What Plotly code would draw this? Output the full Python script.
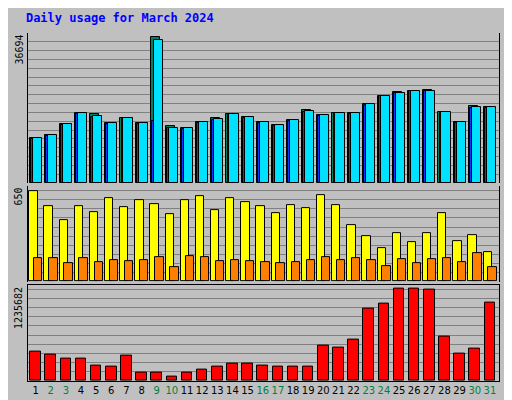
import plotly.graph_objects as go

days = list(range(1, 32))
weekend_days = [2, 3, 9, 10, 16, 17, 23, 24, 30, 31]

hits = [11250, 12000, 14750, 17500, 17250, 15000, 16250, 15000, 36694, 14250, 13750, 15250, 16250, 17250, 16500, 15250,
        14500, 15750, 18250, 17000, 17500, 17500, 19750, 22000, 23000, 23250, 23500, 17750, 15250, 19250, 19000]
files = [11250, 12000, 14750, 17500, 16800, 15000, 16250, 15000, 35900, 13900, 13750, 15250, 16000, 17250, 16500, 15250,
         14500, 15750, 18000, 17000, 17500, 17500, 19750, 22000, 22750, 23250, 23250, 17750, 15250, 19000, 19000]
pages = [11200, 11900, 14700, 17400, 16700, 14900, 16200, 14900, 15500, 13800, 13700, 15200, 15900, 17200, 16400, 15200,
         14400, 15700, 17900, 16900, 17400, 17400, 19700, 21900, 22700, 23200, 23200, 17700, 15200, 18900, 18900]
visits = [650, 543, 443, 543, 500, 600, 536, 586, 557, 486, 586, 614, 514, 600, 571, 543,
          493, 550, 529, 621, 550, 407, 329, 243, 350, 286, 350, 493, 293, 336, 214]
sites = [171, 171, 136, 171, 143, 157, 150, 157, 179, 107, 186, 179, 150, 157, 150, 143,
         136, 143, 157, 179, 157, 171, 157, 114, 164, 136, 164, 171, 143, 207, 107]
kbytes = [393800, 353000, 298700, 298700, 203700, 190100, 339500, 108600, 108600, 54300, 108600, 149400, 190100,
          230800, 230800, 203700, 190100, 190100, 190100, 475300, 448100, 556700, 964100, 1032000, 1235682, 1235682,
          1220000, 597500, 366600, 434500, 1045600]

tick_text = [f"<span style='color:#008040'>{d}</span>" if d in weekend_days else str(d) for d in days]
line = dict(color="black", width=1)

fig = go.Figure()
fig.add_trace(go.Bar(x=days, y=hits, offset=-0.4, width=0.6, marker=dict(color="#008060", line=line), yaxis="y"))
fig.add_trace(go.Bar(x=days, y=pages, offset=-0.32, width=0.6, marker=dict(color="#0040ff", line=line), yaxis="y"))
fig.add_trace(go.Bar(x=days, y=files, offset=-0.2, width=0.6, marker=dict(color="#00e0ff", line=line), yaxis="y"))
fig.add_trace(go.Bar(x=days, y=visits, offset=-0.42, width=0.55, marker=dict(color="#ffff00", line=line), yaxis="y2"))
fig.add_trace(go.Bar(x=days, y=sites, offset=-0.1, width=0.55, marker=dict(color="#ff8000", line=line), yaxis="y2"))
fig.add_trace(go.Bar(x=days, y=kbytes, offset=-0.35, width=0.7, marker=dict(color="#ff0000", line=line), yaxis="y3"))

grid = dict(showgrid=True, gridcolor="#808080", gridwidth=1, showticklabels=False, zeroline=False,
            showline=True, linecolor="black", mirror=True, ticks="")
fig.update_layout(
    width=512, height=400, barmode="overlay", showlegend=False, bargap=0,
    paper_bgcolor="#c0c0c0", plot_bgcolor="#c0c0c0",
    margin=dict(l=20, r=21, t=25, b=25),
    font=dict(family="DejaVu Sans", size=11, color="black"),
    title=dict(text="<b>Daily usage for March 2024</b>", x=0.035, y=0.985, xanchor="left", yanchor="top",
               font=dict(family="DejaVu Sans Mono", size=12, color="#0000ff")),
    xaxis=dict(range=[0.5, 31.6], tickvals=days, ticktext=tick_text, ticks="", showgrid=False, tickangle=0,
               showline=True, linecolor="black", mirror=True, anchor="y3", tickfont=dict(size=10)),
    yaxis=dict(domain=[0.5686, 1], range=[0, 37700], dtick=37700 / 17, **grid),
    yaxis2=dict(domain=[0.2857, 0.56], range=[0, 685], dtick=685 / 10.5, anchor="x", **grid),
    yaxis3=dict(domain=[0, 0.277], range=[0, 1290000], dtick=1290000 / 10.5, anchor="x", **grid),
)

side = dict(xref="paper", yref="paper", showarrow=False, textangle=-90,
            font=dict(family="DejaVu Sans Mono", size=10))
fig.add_annotation(x=0, xshift=-2, y=1, xanchor="right", yanchor="top", text=f"{max(hits)}", **side)
fig.add_annotation(x=0, xshift=-2, y=0.56, xanchor="right", yanchor="top", text=f"{max(visits)}", **side)
fig.add_annotation(x=0, xshift=-2, y=0.277, xanchor="right", yanchor="top", text=f"{max(kbytes)}", **side)
fig.add_annotation(x=1, xshift=2, y=1, xanchor="left", yanchor="top",
                   text="<span style='color:#00c0ff'>Pages</span> / <span style='color:#0040ff'>Files</span>"
                        " / <span style='color:#008060'>Hits</span>", **side)
fig.add_annotation(x=1, xshift=2, y=0.56, xanchor="left", yanchor="top",
                   text="<span style='color:#ff8000'>Sites</span> / <span style='color:#e0e000'>Visits</span>", **side)
fig.add_annotation(x=1, xshift=2, y=0.0, xanchor="left", yanchor="bottom",
                   text="<span style='color:#ff0000'>KBytes</span>", **side)

fig.write_html("out.html")
